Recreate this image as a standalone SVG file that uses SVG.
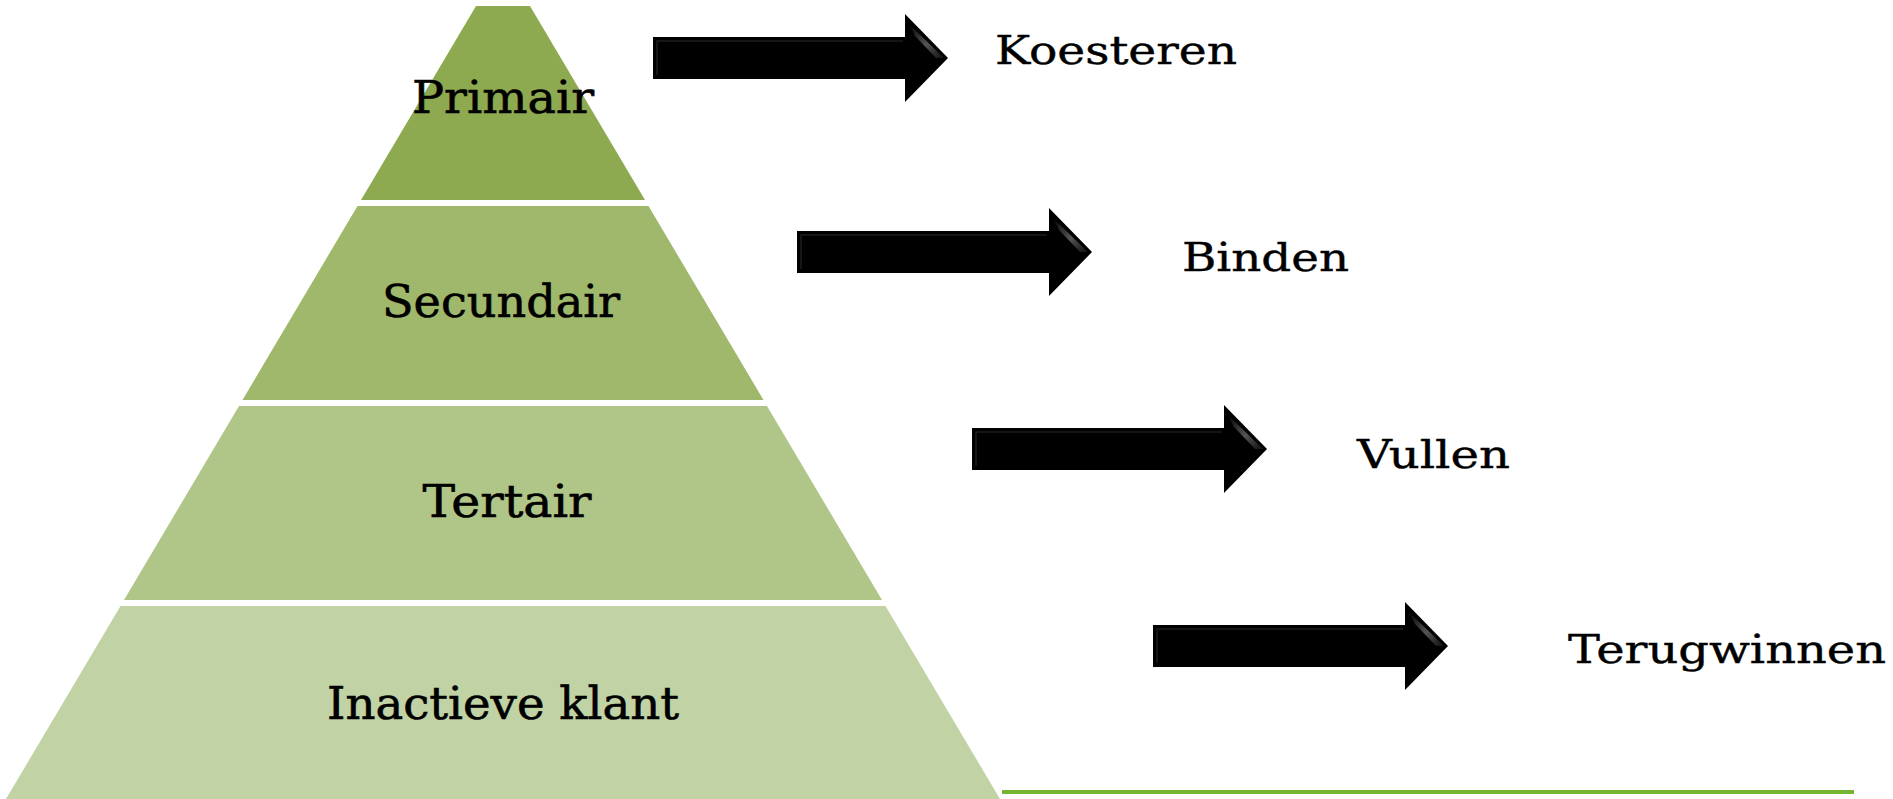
<svg xmlns="http://www.w3.org/2000/svg" width="1893" height="799" viewBox="0 0 1893 799">
<style>
.lbl{font-family:"DejaVu Serif","Liberation Serif",serif;font-size:44px;fill:#000;stroke:#000;stroke-width:0.6px;text-anchor:middle}
.act{font-family:"DejaVu Serif","Liberation Serif",serif;font-size:39px;fill:#000;stroke:#000;stroke-width:0.4px}
</style>
<defs>
<linearGradient id="shine" x1="0" y1="0" x2="1" y2="1">
<stop offset="0" stop-color="#000"/>
<stop offset="0.55" stop-color="#6a6a6a"/>
<stop offset="1" stop-color="#111"/>
</linearGradient>
<g id="arrow">
<polygon points="0,-21 252,-21 252,-44 295,0 252,44 252,21 0,21" fill="#000"/>
<polygon points="256,-34 291,0 283,0 262,-22" fill="url(#shine)" opacity="0.8"/>
<polyline points="4,17 4,-17 250,-17" fill="none" stroke="#1c1c1c" stroke-width="1.5"/>
</g>
</defs>
<rect width="1893" height="799" fill="#fff"/>
<g id="primair">
<polygon points="476,6 530,6 645,200 361,200" fill="#8EAA50"/>
<text class="lbl" x="503" y="113" textLength="182" lengthAdjust="spacingAndGlyphs">Primair</text>
</g>
<g id="secundair">
<polygon points="357.5,206 648.5,206 763.5,400 242.5,400" fill="#9FB86C"/>
<text class="lbl" x="501" y="317" textLength="238" lengthAdjust="spacingAndGlyphs">Secundair</text>
</g>
<g id="tertair">
<polygon points="239,406 767,406 882,600 124,600" fill="#B0C689"/>
<text class="lbl" x="507" y="517" textLength="169" lengthAdjust="spacingAndGlyphs">Tertair</text>
</g>
<g id="inactief">
<polygon points="120.5,606 885.5,606 1000,799 6,799" fill="#C1D2A5"/>
<text class="lbl" x="503" y="719" textLength="352" lengthAdjust="spacingAndGlyphs">Inactieve klant</text>
</g>
<g id="connectors">
<use href="#arrow" x="653" y="58"/>
<use href="#arrow" x="797" y="252"/>
<use href="#arrow" x="972" y="449"/>
<use href="#arrow" x="1153" y="646"/>
</g>
<g id="koesteren"><text class="act" x="995" y="64" textLength="242" lengthAdjust="spacingAndGlyphs">Koesteren</text></g>
<g id="binden"><text class="act" x="1182" y="271" textLength="167" lengthAdjust="spacingAndGlyphs">Binden</text></g>
<g id="vullen"><text class="act" x="1357" y="468" textLength="153" lengthAdjust="spacingAndGlyphs">Vullen</text></g>
<g id="terugwinnen"><text class="act" x="1568" y="663" textLength="318" lengthAdjust="spacingAndGlyphs">Terugwinnen</text></g>
<rect id="baseline" x="1002" y="790" width="852" height="4" fill="#76B531"/>
</svg>
